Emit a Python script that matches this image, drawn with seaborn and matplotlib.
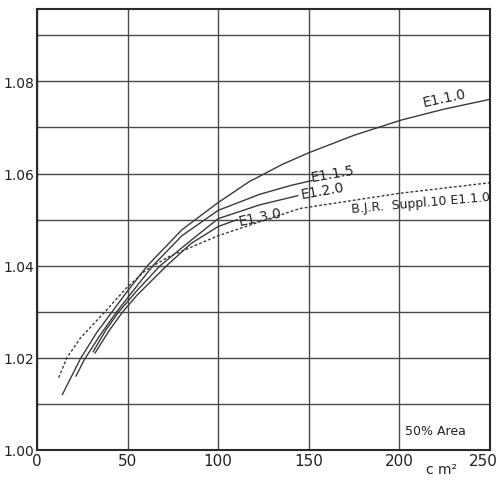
import matplotlib
matplotlib.use("Agg")
import matplotlib.pyplot as plt
import matplotlib.transforms as mtransforms
import numpy as np
import seaborn as sns

# 读取自图像的曲线数据 (x: cm^2, y: 比值)
e110_x = [14, 24, 33, 41.5, 50, 61, 80, 100, 117, 135.5, 150, 175, 201, 225, 250]
e110_y = [1.012, 1.0198, 1.0255, 1.030, 1.0345, 1.040, 1.0478, 1.0537, 1.0582,
          1.0620, 1.0645, 1.0683, 1.0716, 1.074, 1.0761]

e115_x = [21.5, 26, 35, 44, 54, 64, 80, 100, 123, 140, 152]
e115_y = [1.016, 1.0195, 1.025, 1.030, 1.035, 1.040, 1.0465, 1.052, 1.0555, 1.0574, 1.0585]

e120_x = [31, 38, 45.2, 55, 68, 85, 100, 123, 144]
e120_y = [1.0213, 1.026, 1.030, 1.0345, 1.040, 1.0455, 1.0502, 1.0532, 1.0552]

e130_x = [32, 40, 47.4, 55, 71.6, 85, 100, 110.7]
e130_y = [1.021, 1.026, 1.030, 1.0335, 1.040, 1.0448, 1.0485, 1.0500]

bjr_x = [12, 16.5, 24, 38, 49, 60, 73, 100, 145, 200, 250]
bjr_y = [1.0157, 1.020, 1.0243, 1.0302, 1.035, 1.039, 1.042, 1.0465, 1.0524, 1.0557, 1.058]

x_ticks = [0, 50, 100, 150, 200, 250]
y_ticks = [1.00, 1.02, 1.04, 1.06, 1.08]
y_grid = [1.00, 1.01, 1.02, 1.03, 1.04, 1.05, 1.06, 1.07, 1.08, 1.09]

sns.set_style("white")
plt.rcParams['font.family'] = ['DejaVu Sans']

fig = plt.figure(figsize=(4.99, 4.81), dpi=100)
ax = fig.add_axes([0.074, 0.0624, 0.908, 0.9168])

line_color = "#3a3a3a"
sns.lineplot(x=e110_x, y=e110_y, ax=ax, color=line_color, linewidth=1.0)
sns.lineplot(x=e115_x, y=e115_y, ax=ax, color=line_color, linewidth=1.0)
sns.lineplot(x=e120_x, y=e120_y, ax=ax, color=line_color, linewidth=1.0)
sns.lineplot(x=e130_x, y=e130_y, ax=ax, color=line_color, linewidth=1.0)
sns.lineplot(x=bjr_x, y=bjr_y, ax=ax, color=line_color, linewidth=1.0,
             linestyle=(0, (2, 1.5)))

ax.set_xlim(0, 250)
ax.set_ylim(1.0, 1.0957)

# 网格
for gy in y_grid:
    ax.axhline(gy, color="#4a4a4a", linewidth=1.0, zorder=0)
for gx in x_ticks:
    ax.axvline(gx, color="#4a4a4a", linewidth=1.0, zorder=0)

ax.set_xticks(x_ticks)
ax.set_xticklabels([str(v) for v in x_ticks], fontsize=11, color="#222222")
ax.set_yticks(y_ticks)
ax.set_yticklabels([f"{v:.2f}" for v in y_ticks], fontsize=10, color="#222222")
ax.tick_params(length=0, pad=2)

# 最后一个刻度标签往左移一点，避免被裁掉
last = ax.get_xticklabels()[-1]
last.set_transform(last.get_transform() + mtransforms.ScaledTranslation(-5 / 72, 0, fig.dpi_scale_trans))

for s in ax.spines.values():
    s.set_color("#2a2a2a")
    s.set_linewidth(1.5)

# 曲线标注
txt = dict(color="#222222", ha="center", va="center")
ax.text(224.8, 1.0765, "E1.1.0", fontsize=10, rotation=12, **txt)
ax.text(163, 1.0600, "E1.1.5", fontsize=10, rotation=10, **txt)
ax.text(157.6, 1.0563, "E1.2.0", fontsize=10, rotation=10, **txt)
ax.text(123.4, 1.0507, "E1.3.0", fontsize=10, rotation=12, **txt)
ax.text(212, 1.0537, "B.J.R.  Suppl.10 E1.1.0", fontsize=9, rotation=5, **txt)
ax.text(220, 1.0043, "50% Area", fontsize=9, **txt)
ax.text(0.892, -0.043, "c m²", fontsize=10, transform=ax.transAxes, **txt)

fig.savefig("out.png", dpi=100)
